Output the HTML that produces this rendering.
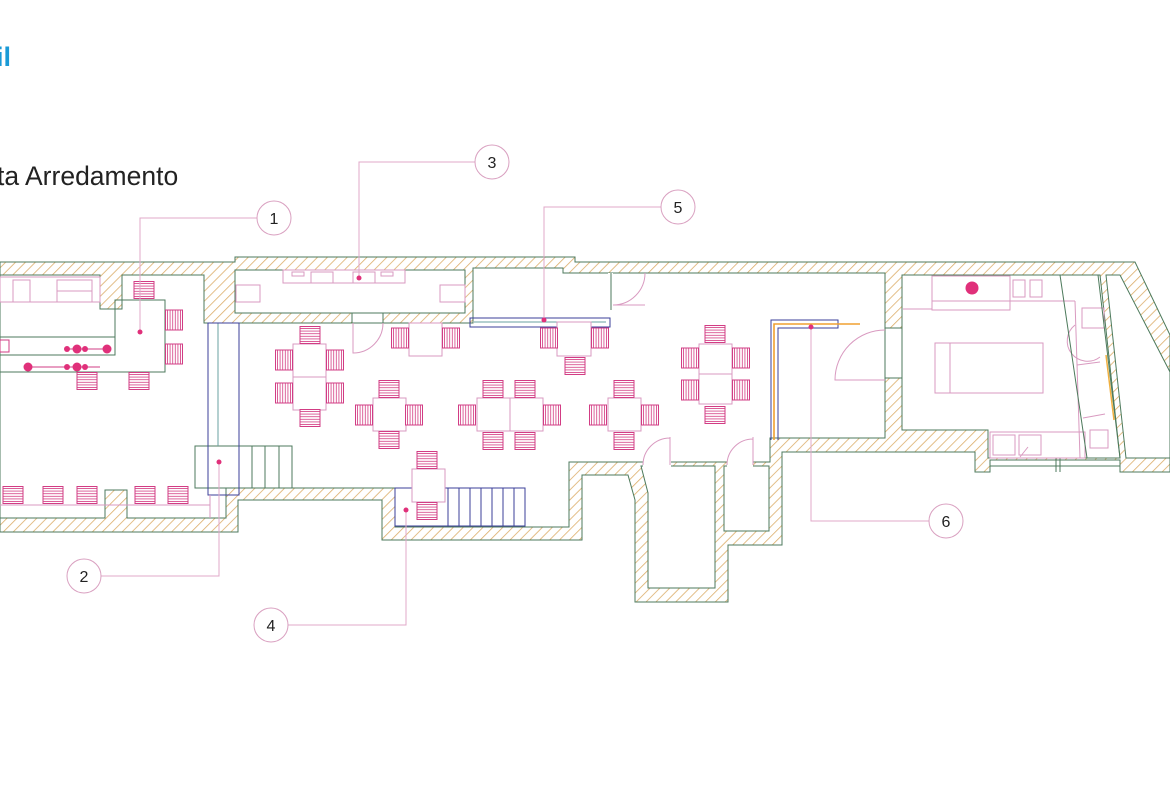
<!DOCTYPE html>
<html><head><meta charset="utf-8"><style>
html,body{margin:0;padding:0;background:#fff;}
svg{display:block;}
</style></head><body>
<svg width="1170" height="785" viewBox="0 0 1170 785" xmlns="http://www.w3.org/2000/svg">
<defs>
<pattern id="hatch" patternUnits="userSpaceOnUse" width="7" height="7" patternTransform="rotate(45)">
<rect width="7" height="7" fill="#fff"/><line x1="0" y1="0" x2="0" y2="7" stroke="#dcae6a" stroke-width="1.6"/>
</pattern>
<pattern id="sh" patternUnits="userSpaceOnUse" width="4" height="2.6"><rect width="4" height="2.6" fill="#fff"/><line x1="0" y1="1.3" x2="4" y2="1.3" stroke="#d8508f" stroke-width="0.9"/></pattern>
<pattern id="sv" patternUnits="userSpaceOnUse" width="2.6" height="4"><rect width="2.6" height="4" fill="#fff"/><line x1="1.3" y1="0" x2="1.3" y2="4" stroke="#d8508f" stroke-width="0.9"/></pattern>
<g id="cH"><rect x="-10" y="-8.5" width="20" height="17" fill="url(#sh)" stroke="#d23c84" stroke-width="1"/></g>
<g id="cV"><rect x="-8.5" y="-10" width="17" height="20" fill="url(#sv)" stroke="#d23c84" stroke-width="1"/></g>
</defs>

<text x="-4" y="66" font-family="Liberation Sans, sans-serif" font-weight="bold" font-size="27" fill="#1a9ad6">il</text>
<text x="-3" y="185" font-family="Liberation Sans, sans-serif" font-size="26.5" fill="#222">ta Arredamento</text>

<!-- walls -->
<path fill="url(#hatch)" fill-rule="evenodd" stroke="#4d7a5c" stroke-width="1" d="
M0,262 L235,262 L235,257 L575,257 L575,262 L1135,262 L1170,335 L1170,472 L1120,472 L1120,460 L990,460 L990,472 L975,472 L975,452 L782,452 L782,545 L728,545 L728,602 L635,602 L635,500 L628,475 L582,475 L582,540 L382,540 L382,500 L238,500 L238,532 L0,532 Z
M0,275 L100,275 L100,309 L122,309 L122,275 L204,275 L204,323 L473,323 L473,268 L563,268 L563,273 L885,273 L885,438 L770,438 L770,462 L569,462 L569,527 L395,527 L395,488 L226,488 L226,518 L127,518 L127,490 L105,490 L105,518 L0,518 Z
M235,270 L465,270 L465,313 L235,313 Z
M641,466 L715,466 L715,588 L648,588 L648,493 Z
M724,466 L769,466 L769,531 L724,531 Z
M902,275 L1100,275 L1120,458 L988,458 L988,430 L902,430 Z
M1106,275 L1120,275 L1170,372 L1170,458 L1126,458 Z"/>
<!-- openings -->
<rect x="352" y="313" width="31" height="10" fill="#fff" stroke="#4d7a5c" stroke-width="1"/>
<rect x="608" y="273" width="5" height="37" fill="#fff"/>
<line x1="611" y1="273" x2="611" y2="310" stroke="#4d7a5c"/>
<rect x="885" y="328" width="17" height="50" fill="#fff" stroke="#4d7a5c" stroke-width="1"/>
<rect x="643" y="461" width="28" height="6" fill="#fff"/>
<rect x="727" y="461" width="26" height="6" fill="#fff"/>
<line x1="990" y1="466" x2="1120" y2="466" stroke="#4d7a5c"/>
<line x1="1056" y1="458" x2="1056" y2="472" stroke="#4d7a5c"/>
<line x1="1060" y1="458" x2="1060" y2="472" stroke="#4d7a5c"/>

<!-- doors -->
<g fill="none" stroke="#d99ac0" stroke-width="1">
<path d="M353,323 L353,353 A30,30 0 0 0 383,323"/>
<path d="M613,305 L645,305 M613,305 A32,32 0 0 0 645,273" />
<path d="M670,437 L670,465 M643,465 A27,27 0 0 1 670,438"/>
<path d="M753,437 L753,465 M727,465 A26,26 0 0 1 753,439"/>
<path d="M885,380 L835,380 A50,50 0 0 1 885,330"/>
<path d="M1075,325 A20,20 0 0 0 1100,357"/>
</g>

<!-- stairs left -->
<g fill="none" stroke-width="1">
<rect x="195" y="446" width="97" height="42" stroke="#4d7a5c"/>
<line x1="252" y1="446" x2="252" y2="488" stroke="#4d7a5c"/>
<line x1="265" y1="446" x2="265" y2="488" stroke="#4d7a5c"/>
<line x1="279" y1="446" x2="279" y2="488" stroke="#4d7a5c"/>
<line x1="218" y1="323" x2="218" y2="446" stroke="#6aa0a0"/>
<rect x="208" y="323" width="31" height="172" stroke="#3b3f9a"/>
<rect x="395" y="488" width="130" height="38" stroke="#3b3f9a"/>
<path d="M448,488V526M459,488V526M470,488V526M481,488V526M492,488V526M503,488V526M514,488V526" stroke="#3b3f9a"/>
<rect x="470" y="318" width="140" height="9" stroke="#3b3f9a"/>
<line x1="474" y1="322" x2="606" y2="322" stroke="#6aa0a0"/>
<path d="M771,440 V320 H838 V328 H778 V440" stroke="#3b3f9a"/>
<path d="M774,440 V324 H860" stroke="#f0a030" stroke-width="1.6"/>
</g>

<!-- left bar -->
<g fill="none" stroke-width="1">
<rect x="0" y="277" width="100" height="25" stroke="#d99ac0"/>
<rect x="13" y="280" width="17" height="22" stroke="#d99ac0"/>
<rect x="57" y="280" width="35" height="22" stroke="#d99ac0"/>
<line x1="57" y1="291" x2="92" y2="291" stroke="#d99ac0"/>
<path d="M0,337 H115 V300 H165 V372 H0 M0,355 H115 V337" stroke="#4d7a5c"/>
<line x1="67" y1="349" x2="107" y2="349" stroke="#d23c84"/>
<line x1="28" y1="367" x2="100" y2="367" stroke="#d23c84"/>
<line x1="0" y1="505" x2="210" y2="505" stroke="#d99ac0"/>
<line x1="210" y1="495" x2="210" y2="518" stroke="#d99ac0"/>
<rect x="0" y="340" width="9" height="12" stroke="#d23c84"/>
</g>
<g fill="#e0307a">
<circle cx="67" cy="349" r="3"/><circle cx="77" cy="349" r="4.5"/><circle cx="85" cy="349" r="3"/><circle cx="107" cy="349" r="4.5"/>
<circle cx="28" cy="367" r="4.5"/><circle cx="67" cy="367" r="3"/><circle cx="77" cy="367" r="4.5"/><circle cx="85" cy="367" r="3"/>
<circle cx="972" cy="288" r="6.5"/>
</g>

<!-- storage furniture -->
<g fill="none" stroke="#d99ac0" stroke-width="1">
<rect x="283" y="270" width="122" height="13"/>
<rect x="292" y="272" width="12" height="4"/><rect x="311" y="272" width="22" height="11"/>
<rect x="353" y="272" width="22" height="11"/><rect x="381" y="272" width="12" height="4"/>
<rect x="236" y="285" width="24" height="17"/><rect x="440" y="285" width="25" height="17"/>
</g>

<!-- kitchen -->
<g fill="none" stroke="#d99ac0" stroke-width="1">
<rect x="932" y="276" width="78" height="34"/><line x1="932" y1="301" x2="1010" y2="301"/>
<line x1="903" y1="309" x2="932" y2="309"/>
<rect x="1013" y="280" width="12" height="17"/><rect x="1030" y="280" width="12" height="17"/>
<line x1="1010" y1="301" x2="1075" y2="301"/><line x1="1075" y1="301" x2="1080" y2="458"/>
<rect x="935" y="343" width="108" height="50"/><line x1="950" y1="343" x2="950" y2="393"/>
<rect x="990" y="432" width="95" height="26"/>
<rect x="993" y="435" width="22" height="20"/><rect x="1019" y="435" width="22" height="20"/>
<line x1="1020" y1="457" x2="1028" y2="447"/>
<rect x="1082" y="308" width="22" height="20"/>
<path d="M1077,365 L1100,362 M1083,418 L1105,414"/>
<rect x="1090" y="430" width="18" height="18"/>
</g>
<line x1="1060" y1="275" x2="1087" y2="458" stroke="#4d7a5c"/>
<line x1="1098" y1="275" x2="1120" y2="458" stroke="#4d7a5c"/>
<line x1="1106" y1="355" x2="1114" y2="420" stroke="#f0b040" stroke-width="1.5"/>

<!-- tables -->
<g fill="#fff" stroke="#d99ac0" stroke-width="1">
<rect x="293" y="344" width="33" height="33"/><rect x="293" y="377" width="33" height="33"/>
<rect x="409" y="323" width="33" height="33"/>
<rect x="373" y="398" width="33" height="33"/>
<rect x="477" y="398" width="33" height="33"/><rect x="510" y="398" width="33" height="33"/>
<rect x="557" y="322" width="34" height="34"/>
<rect x="608" y="398" width="33" height="33"/>
<rect x="699" y="344" width="33" height="30"/><rect x="699" y="374" width="33" height="30"/>
<rect x="412" y="469" width="33" height="33"/>
</g>

<!-- chairs -->
<use href="#cH" x="144" y="290"/><use href="#cV" x="174" y="320"/><use href="#cV" x="174" y="354"/>
<use href="#cH" x="87" y="381"/><use href="#cH" x="139" y="381"/>
<use href="#cH" x="13" y="495"/><use href="#cH" x="53" y="495"/><use href="#cH" x="87" y="495"/><use href="#cH" x="145" y="495"/><use href="#cH" x="178" y="495"/>
<use href="#cH" x="310" y="335"/><use href="#cH" x="310" y="418"/>
<use href="#cV" x="284" y="360"/><use href="#cV" x="284" y="393"/><use href="#cV" x="335" y="360"/><use href="#cV" x="335" y="393"/>
<use href="#cV" x="400" y="338"/><use href="#cV" x="451" y="338"/>
<use href="#cH" x="389" y="389"/><use href="#cH" x="389" y="440"/><use href="#cV" x="364" y="415"/><use href="#cV" x="414" y="415"/>
<use href="#cH" x="493" y="389"/><use href="#cH" x="525" y="389"/><use href="#cH" x="493" y="441"/><use href="#cH" x="525" y="441"/>
<use href="#cV" x="467" y="415"/><use href="#cV" x="552" y="415"/>
<use href="#cV" x="549" y="338"/><use href="#cV" x="600" y="338"/><use href="#cH" x="575" y="366"/>
<use href="#cH" x="624" y="389"/><use href="#cH" x="624" y="441"/><use href="#cV" x="598" y="415"/><use href="#cV" x="650" y="415"/>
<use href="#cH" x="715" y="334"/><use href="#cH" x="715" y="415"/>
<use href="#cV" x="690" y="358"/><use href="#cV" x="690" y="390"/><use href="#cV" x="741" y="358"/><use href="#cV" x="741" y="390"/>
<use href="#cH" x="427" y="460"/><use href="#cH" x="427" y="511"/>

<!-- callouts -->
<g fill="none" stroke="#e0a8c8" stroke-width="1">
<path d="M258,218 H140 V332"/>
<path d="M476,162 H359 V278"/>
<path d="M662,207 H544 V320"/>
<path d="M930,521 H811 V327"/>
<path d="M100,576 H219 V462"/>
<path d="M287,625 H406 V510"/>
</g>
<g fill="#fff" stroke="#d9a0c0" stroke-width="1">
<circle cx="274" cy="218" r="17"/><circle cx="492" cy="162" r="17"/><circle cx="678" cy="207" r="17"/>
<circle cx="946" cy="521" r="17"/><circle cx="84" cy="576" r="17"/><circle cx="271" cy="625" r="17"/>
</g>
<g fill="#e0307a">
<circle cx="140" cy="332" r="2.5"/><circle cx="359" cy="278" r="2.5"/><circle cx="544" cy="320" r="2.5"/>
<circle cx="811" cy="327" r="2.5"/><circle cx="219" cy="462" r="2.5"/><circle cx="406" cy="510" r="2.5"/>
</g>
<g font-family="Liberation Sans, sans-serif" font-size="16" fill="#222" text-anchor="middle">
<text x="274" y="224">1</text><text x="492" y="168">3</text><text x="678" y="213">5</text>
<text x="946" y="527">6</text><text x="84" y="582">2</text><text x="271" y="631">4</text>
</g>
</svg>
</body></html>
